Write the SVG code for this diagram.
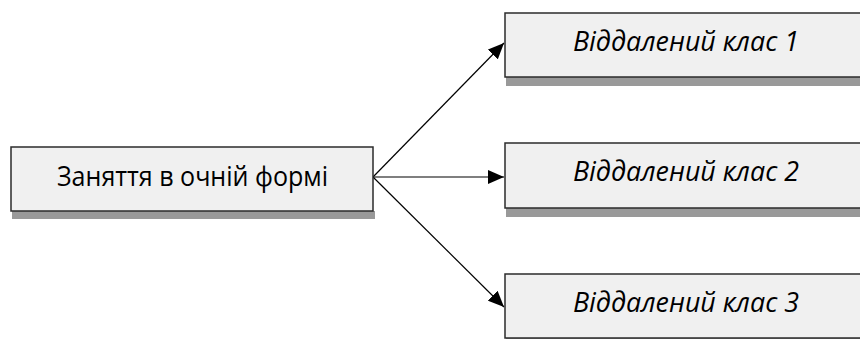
<svg xmlns="http://www.w3.org/2000/svg" width="860" height="339" viewBox="0 0 860 339">
  <defs>
    <marker id="arrow" markerWidth="16" markerHeight="14" refX="16" refY="7" orient="auto" markerUnits="userSpaceOnUse">
      <path d="M0,0 L16,7 L0,14 Z" fill="#000"/>
    </marker>
    <style>
      .box { fill: #f0f0f0; stroke: #2b2b2b; stroke-width: 1.5; }
      .shadow { fill: #999999; }
      .label { font-family: "Open Sans", "Liberation Sans", sans-serif; font-size: 27px; fill: #000; }
      .it { font-style: italic; }
      .edge { stroke: #000; stroke-width: 1.2; fill: none; marker-end: url(#arrow); }
    </style>
  </defs>
  <rect width="860" height="339" fill="#fff"/>

  <!-- arrows fanning out from the main node -->
  <g id="connectors">
    <line class="edge" x1="373" y1="177" x2="504" y2="43"/>
    <line class="edge" x1="373" y1="177" x2="504" y2="177"/>
    <line class="edge" x1="373" y1="177" x2="504" y2="307"/>
  </g>

  <g id="node-main">
    <rect class="shadow" x="12" y="211" width="363" height="8"/>
    <rect class="box" x="11" y="147" width="362" height="64"/>
    <text class="label" x="57" y="186" textLength="271" lengthAdjust="spacingAndGlyphs">Заняття в очній формі</text>
  </g>

  <g id="node-class1">
    <rect class="shadow" x="506" y="77" width="370" height="9"/>
    <rect class="box" x="505" y="13" width="370" height="64"/>
    <text class="label it" x="573" y="51" textLength="226" lengthAdjust="spacingAndGlyphs">Віддалений клас 1</text>
  </g>

  <g id="node-class2">
    <rect class="shadow" x="506" y="208" width="370" height="9"/>
    <rect class="box" x="505" y="143" width="370" height="65"/>
    <text class="label it" x="573" y="181" textLength="226" lengthAdjust="spacingAndGlyphs">Віддалений клас 2</text>
  </g>

  <g id="node-class3">
    <rect class="shadow" x="506" y="338" width="370" height="9"/>
    <rect class="box" x="505" y="274" width="370" height="64"/>
    <text class="label it" x="573" y="312" textLength="226" lengthAdjust="spacingAndGlyphs">Віддалений клас 3</text>
  </g>
</svg>
